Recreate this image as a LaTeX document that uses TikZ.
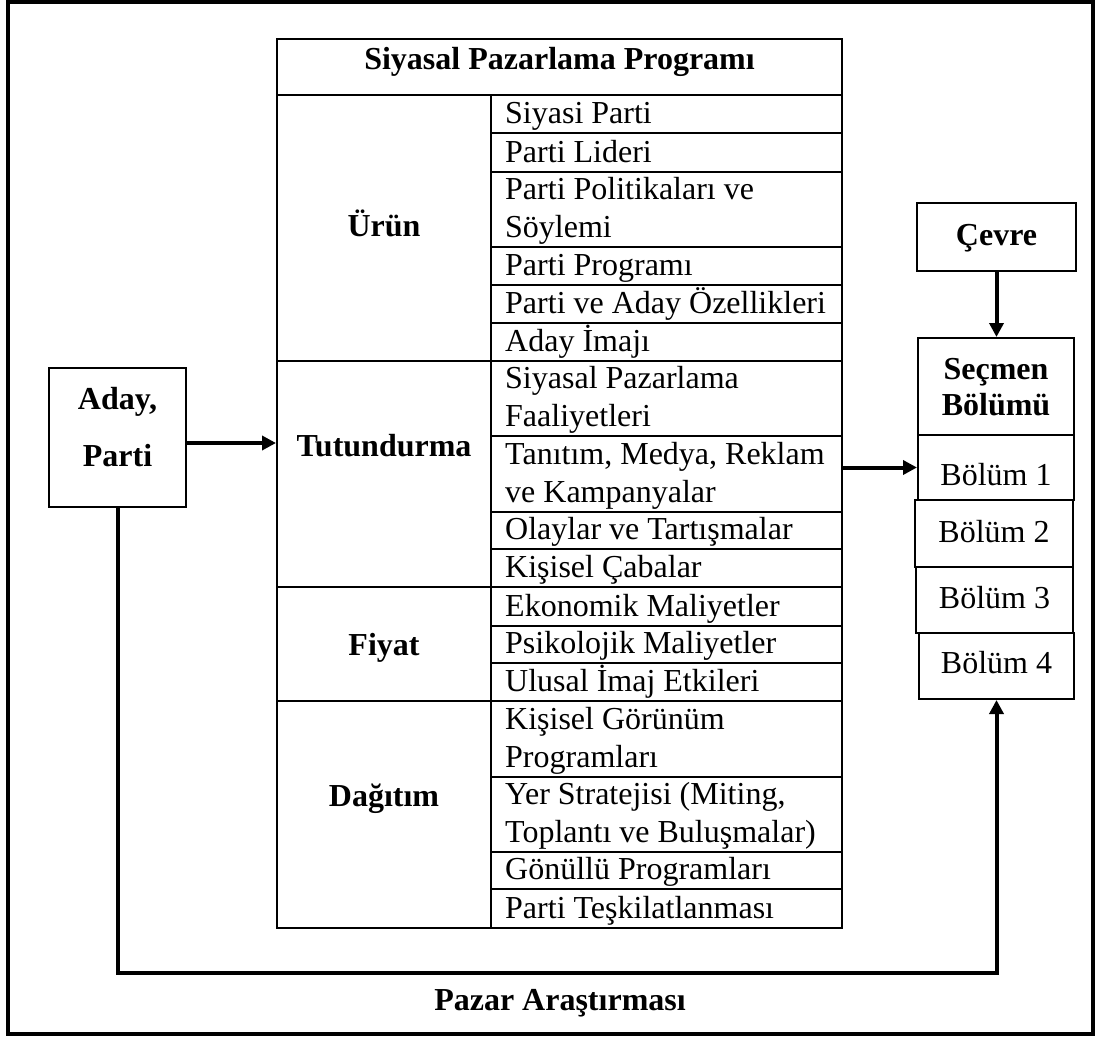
\documentclass[tikz,border=0pt]{standalone}
\usepackage{fontspec}
\setmainfont{Liberation Serif}
\usetikzlibrary{arrows.meta,fit}
% zero-width strut that fixes the height of a node's first line
\newcommand\firstline{\rule{0pt}{30pt}}
\begin{document}
\begin{tikzpicture}[x=1pt,y=-1pt,
  frame/.style={draw, line width=2pt, inner sep=0pt},
  grid/.style={line width=2pt},
  cell/.style={anchor=north west, inner sep=0pt, align=left, font=\fontsize{32}{38}\selectfont},
  head/.style={anchor=north, inner sep=0pt, align=center, font=\bfseries\fontsize{32}{38}\selectfont},
  plain/.style={anchor=base, inner sep=0pt, font=\fontsize{32}{38}\selectfont},
  bold/.style={anchor=base, inner sep=0pt, font=\bfseries\fontsize{32}{38}\selectfont},
  arr/.style={line width=4pt, -{Triangle[length=14pt,width=14pt]}},
]
\useasboundingbox (0,0) rectangle (1098,1039);

% outer frame
\draw[line width=4pt] (7.5,2) rectangle (1092.5,1034);

% programme table
\node[frame, fit={(277,39) (842,928)}] (tbl) {};
\draw[grid] (277,95) -- (842,95);
\draw[grid] (491,95) -- (491,928);
\foreach \y in {361,587,701} \draw[grid] (277,\y) -- (842,\y);
\foreach \y in {133,172,247,285,323,436,512,549,626,663,777,852,889}
  \draw[grid] (491,\y) -- (842,\y);

\node[head] (title) at (559.5,39) {\firstline Siyasal Pazarlama Programı};

% group labels
\node[head] (urun)  at (384,206) {\firstline Ürün};
\node[head] (tut)   at (384,426) {\firstline Tutundurma};
\node[head] (fiyat) at (384,625) {\firstline Fiyat};
\node[head] (dag)   at (384,776) {\firstline Dağıtım};

% items
\node[cell] (p1) at (505,93)  {\firstline Siyasi Parti};
\node[cell] (p2) at (505,132) {\firstline Parti Lideri};
\node[cell] (p3) at (505,169) {\firstline Parti Politikaları ve\\Söylemi};
\node[cell] (p4) at (505,245) {\firstline Parti Programı};
\node[cell] (p5) at (505,283) {\firstline Parti ve Aday Özellikleri};
\node[cell] (p6) at (505,321) {\firstline Aday İmajı};
\node[cell] (t1) at (505,358) {\firstline Siyasal Pazarlama\\Faaliyetleri};
\node[cell] (t2) at (505,434) {\firstline Tanıtım, Medya, Reklam\\ve Kampanyalar};
\node[cell] (t3) at (505,509) {\firstline Olaylar ve Tartışmalar};
\node[cell] (t4) at (505,547) {\firstline Kişisel Çabalar};
\node[cell] (f1) at (505,586) {\firstline Ekonomik Maliyetler};
\node[cell] (f2) at (505,623) {\firstline Psikolojik Maliyetler};
\node[cell] (f3) at (505,661) {\firstline Ulusal İmaj Etkileri};
\node[cell] (d1) at (505,699) {\firstline Kişisel Görünüm\\Programları};
\node[cell] (d2) at (505,774) {\firstline Yer Stratejisi (Miting,\\Toplantı ve Buluşmalar)};
\node[cell] (d3) at (505,849) {\firstline Gönüllü Programları};
\node[cell] (d4) at (505,888) {\firstline Parti Teşkilatlanması};

% candidate / party
\node[frame, fit={(49,368) (186,507)}] (aday) {};
\node[head, font=\bfseries\fontsize{32}{57}\selectfont] (adaytxt) at (117.5,379) {\firstline Aday,\\Parti};

% environment
\node[frame, fit={(917,203) (1076,271)}] (cevre) {};
\node[bold] (cevretxt) at (996.5,245) {Çevre};

% voter segments
\node[frame, fit={(918,338) (1074,435)}] (secmen) {};
\node[head, font=\bfseries\fontsize{32}{36}\selectfont] (secmentxt) at (996,349) {\firstline Seçmen\\Bölümü};
\node[frame, fit={(918,435) (1074,500)}] (b1) {};
\node[frame, fit={(915,500) (1073,567)}] (b2) {};
\node[frame, fit={(916,567) (1073,633)}] (b3) {};
\node[frame, fit={(919,633) (1074,699)}] (b4) {};
\node[plain] (b1txt) at (996,485)   {Bölüm 1};
\node[plain] (b2txt) at (994,542)   {Bölüm 2};
\node[plain] (b3txt) at (994.5,608) {Bölüm 3};
\node[plain] (b4txt) at (996.5,673) {Bölüm 4};

% connectors
\draw[arr] ([yshift=-5.5pt]aday.east) -- ([yshift=-5.5pt]aday.east -| tbl.west);
\draw[arr] (tbl.east |- b1.west) -- (b1.west);
\draw[arr] (cevre.south) -- (cevre.south |- secmen.north);
\draw[arr] (aday.south) -- ++(0,465) -| (b4.south);

\node[bold] (pazar) at (560,1010) {Pazar Araştırması};
\end{tikzpicture}
\end{document}
